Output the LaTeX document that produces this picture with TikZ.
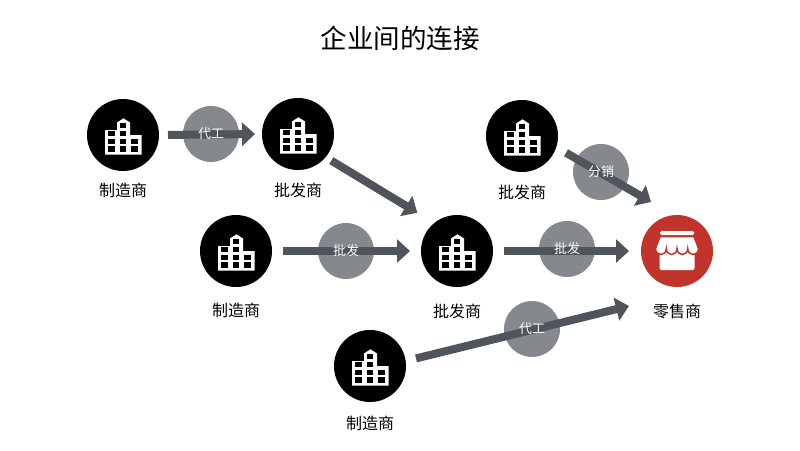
\documentclass[tikz,border=0pt]{standalone}
\usepackage{fontspec}
\setmainfont{Noto Sans CJK SC}
\usetikzlibrary{positioning,arrows.meta}
\definecolor{shopred}{HTML}{C0342B}
\definecolor{linkgrey}{HTML}{50555C}
\definecolor{tradegrey}{HTML}{85888C}
\tikzset{
	firm/.style={circle, fill=black, minimum size=72pt, inner sep=0pt, outer sep=0pt},
	shop/.style={firm, fill=shopred},
	trade/.style={circle, fill=tradegrey, minimum size=56pt, inner sep=0pt, outer sep=0pt},
	tradetext/.style={text=white, font=\fontsize{13}{15}\selectfont, inner sep=0pt},
	firmtext/.style={font=\fontsize{16}{18}\selectfont, inner sep=0pt},
	link/.style={draw=linkgrey, line width=8pt, -{Triangle[length=13pt,width=23pt]}},
	bldg/.pic={
		\fill[white] (-18,19.5) -- (-18,-5) -- (-6,-5) -- (-6,-12.5) -- (0.5,-16.7) -- (7,-12.5) -- (7,0) -- (18.5,0) -- (18.5,19.5) -- cycle;
		\foreach \cx/\cy in {-11.5/-1.5, 0/-1.5, 0/-9.5, -11.5/6.5, 0/6.5, 11.5/6.5, -11.5/14, 0/14, 11.5/14}
			\fill[black] (\cx-3.1,\cy-2.7) rectangle (\cx+3.1,\cy+2.7);
	},
	awning/.pic={
		\fill[white, rounded corners=2pt] (-17.5,0) rectangle (17.5,19);
		\fill[white, rounded corners=1.5pt] (-17,-20) rectangle (17,-16);
		\filldraw[fill=white, draw=shopred, line width=1.5pt] (-17,-14.5) -- (17,-14.5) -- (21.5,-2.5)
			.. controls (21.5,5.5) and (10.7,5.5) .. (10.7,-2.5)
			.. controls (10.7,5.5) and (0,5.5) .. (0,-2.5)
			.. controls (0,5.5) and (-10.7,5.5) .. (-10.7,-2.5)
			.. controls (-10.7,5.5) and (-21.5,5.5) .. (-21.5,-2.5) -- cycle;
	},
}
\begin{document}
\begin{tikzpicture}[x=1pt, y=-1pt]
		\useasboundingbox (0,0) rectangle (800,450);
		\node (title) at (400,38) [font=\fontsize{26.5}{30}\selectfont, inner sep=0pt] {企业间的连接};

		\node (mkrA) at (123,135) [firm] {};
		\node (whsA) at (298,134) [firm] {};
		\node (whsB) at (522,136) [firm] {};
		\node (mkrB) at (236,251) [firm] {};
		\node (whsC) at (457,251) [firm] {};
		\node (mkrC) at (370,366) [firm] {};
		\node (rtl) at (677,251) [shop] {};
		\coordinate (rtlin) at (629,306);

		\node (mkrAt) [firmtext, below=12pt of mkrA] {制造商};
		\node (whsAt) [firmtext, below=13pt of whsA] {批发商};
		\node (whsBt) [firmtext, below=13pt of whsB] {批发商};
		\node (mkrBt) [firmtext, below=16pt of mkrB] {制造商};
		\node (whsCt) [firmtext, below=17pt of whsC] {批发商};
		\node (mkrCt) [firmtext, below=14pt of mkrC] {制造商};
		\node (rtlt) [firmtext, below=17pt of rtl] {零售商};

		\foreach \n in {mkrA,whsA,whsB,mkrB,whsC,mkrC}
			\pic at (\n) {bldg};
		\pic at (rtl) {awning};

		\node (trdA) at (211,134) [trade] {};
		\node (trdB) at (601,172) [trade] {};
		\node (trdC) at (346,251) [trade] {};
		\node (trdD) at (567,249) [trade] {};
		\node (trdE) at (532,329) [trade] {};

		\draw[link, shorten <=9pt, shorten >=7pt] (mkrA.east) -- (whsA.west);
		\draw[link, shorten <=6.7pt, shorten >=19.9pt] (whsA.-40.7) -- (whsC.129.7);
		\draw[link, shorten <=11.3pt, shorten >=26.3pt] (whsB.-18.3) -- (rtl.95.1);
		\draw[link, shorten <=11pt, shorten >=11pt] (mkrB.east) -- (whsC.west);
		\draw[link, shorten <=11pt, shorten >=12pt] (whsC.east) -- (rtl.west);
		\draw[link, shorten <=10.7pt] (mkrC.8.8) -- (rtlin);

		\node at (trdA) [tradetext] {代工};
		\node at (trdB) [tradetext] {分销};
		\node at (trdC) [tradetext] {批发};
		\node at (trdD) [tradetext] {批发};
		\node at (trdE) [tradetext] {代工};
	\end{tikzpicture}
\end{document}
